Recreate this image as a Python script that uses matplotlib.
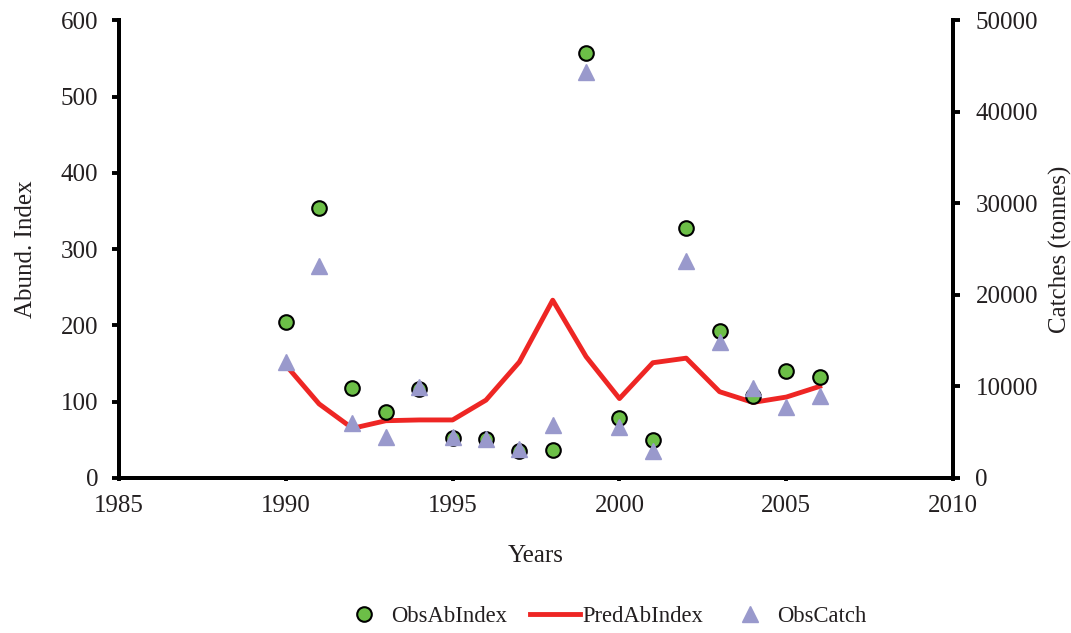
import matplotlib
matplotlib.use("Agg")
import matplotlib.pyplot as plt

years = [1990, 1991, 1992, 1993, 1994, 1995, 1996, 1997, 1998, 1999,
         2000, 2001, 2002, 2003, 2004, 2005, 2006]
obs_ab_index = [205, 354, 118, 86, 116, 52, 51, 35, 37, 557,
                78, 50, 327, 192, 107, 140, 132]
pred_ab_index = [148, 97, 65, 75, 76, 76, 102, 152, 233, 159,
                 104, 151, 157, 113, 99, 106, 120]
obs_catch = [12700, 23100, 5970, 4500, 9970, 4500, 4220, 3130, 5790, 44300,
             5600, 2980, 23700, 14900, 9790, 7780, 8980]

plt.rcParams['font.family'] = ['Liberation Serif', 'DejaVu Serif']
fs = 18
text_color = '#231f20'

fig = plt.figure(figsize=(10.71, 6.33), dpi=100)
ax = fig.add_axes([0.111, 0.245, 0.779, 0.723])
ax2 = ax.twinx()

green = '#6cbf47'
red = '#ee2624'
purple = '#9999cc'

l1, = ax.plot(years, obs_ab_index, linestyle='none', marker='o', markersize=10.5,
              markerfacecolor=green, markeredgecolor='black', markeredgewidth=1.5,
              label='ObsAbIndex', zorder=3)
l2, = ax.plot(years, pred_ab_index, color=red, linewidth=3.5, label='PredAbIndex',
              zorder=2)
l3, = ax2.plot(years, obs_catch, linestyle='none', marker='^', markersize=11,
               markerfacecolor=purple, markeredgecolor=purple, label='ObsCatch')

ax.set_xlim(1985, 2010)
ax.set_ylim(0, 600)
ax2.set_ylim(0, 50000)
ax.set_xticks([1985, 1990, 1995, 2000, 2005, 2010])
ax.set_yticks(range(0, 601, 100))
ax2.set_yticks(range(0, 50001, 10000))

for a in (ax, ax2):
    for s in a.spines.values():
        s.set_linewidth(2.8)
    a.spines['top'].set_visible(False)
    a.tick_params(width=2.8, length=5, labelsize=fs, direction='out',
                  labelcolor=text_color)
ax.tick_params(axis='x', length=2.5, pad=10)
ax.tick_params(axis='y', pad=10)
ax2.tick_params(axis='y', pad=11)

ax.set_xlabel('Years', fontsize=fs, labelpad=20, color=text_color)
ax.set_ylabel('Abund. Index', fontsize=fs, labelpad=17, color=text_color)
ax2.set_ylabel('Catches (tonnes)', fontsize=fs, labelpad=8, color=text_color)

leg = fig.legend(handles=[l1, l2, l3], loc='center', bbox_to_anchor=(0.563, 0.026),
                 ncol=3, frameon=False, fontsize=16.3, handlelength=2.2,
                 handletextpad=0.1, columnspacing=1.0)
for t in leg.get_texts():
    t.set_color(text_color)

fig.savefig('out.png', dpi=100)
